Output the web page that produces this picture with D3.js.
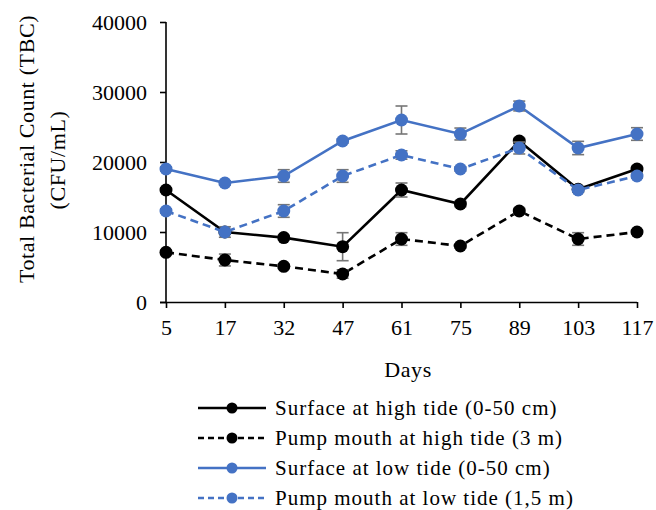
<!DOCTYPE html>
<html>
<head>
<meta charset="utf-8">
<script src="https://cdn.jsdelivr.net/npm/d3@7"></script>
<style>
  html, body { margin: 0; padding: 0; background: #fff; }
  svg text { font-family: "Liberation Serif", "Times New Roman", serif; fill: #000; }
</style>
</head>
<body>
<svg id="chart" width="656" height="510"></svg>
<script>
// Sampling days (categorical x axis)
const days = ["5", "17", "32", "47", "61", "75", "89", "103", "117"];
const yTicks = [0, 10000, 20000, 30000, 40000];

// Total bacterial count (CFU/mL) per series
const surfaceHigh = [16000, 10000, 9200, 7900, 16000, 14000, 23000, 16100, 19000];
const pumpHigh    = [7100, 6000, 5100, 4000, 9000, 8000, 13000, 9000, 10000];
const surfaceLow  = [19000, 17000, 18000, 23000, 26000, 24000, 28000, 22000, 24000];
const pumpLow     = [13000, 10000, 13000, 18000, 21000, 19000, 22000, 16000, 18000];

// Standard deviations (error bars)
const surfaceHighErr = [300, 300, 300, 2000, 1000, 400, 400, 400, 400];
const pumpHighErr    = [300, 850, 300, 600, 900, 300, 400, 900, 300];
const surfaceLowErr  = [300, 300, 900, 300, 2000, 850, 700, 950, 900];
const pumpLowErr     = [300, 750, 900, 900, 600, 300, 850, 300, 300];

const seriesNames = [
  "Surface at high tide (0-50 cm)",
  "Pump mouth at high tide (3 m)",
  "Surface at low tide (0-50 cm)",
  "Pump mouth at low tide (1,5 m)"
];

const series = [
  { name: seriesNames[0], values: surfaceHigh, err: surfaceHighErr, color: "#000000", dash: null },
  { name: seriesNames[1], values: pumpHigh,    err: pumpHighErr,    color: "#000000", dash: "8,5" },
  { name: seriesNames[2], values: surfaceLow,  err: surfaceLowErr,  color: "#4472C4", dash: null },
  { name: seriesNames[3], values: pumpLow,     err: pumpLowErr,     color: "#4472C4", dash: "8,5" }
];

const svg = d3.select("#chart");
const x = d3.scalePoint().domain(days).range([166, 637]).padding(0);
const y = d3.scaleLinear().domain([0, 40000]).range([302, 22]);

// Axes
const yAxis = svg.append("g")
  .attr("transform", `translate(${x(days[0])},0)`)
  .call(d3.axisLeft(y).tickValues(yTicks).tickSize(6).tickPadding(13).tickFormat(d3.format("d")));
const xAxis = svg.append("g")
  .attr("transform", `translate(0,${y(0)})`)
  .call(d3.axisBottom(x).tickSize(6).tickPadding(11));
[yAxis, xAxis].forEach(g => {
  g.select(".domain").attr("stroke", "#000").attr("stroke-width", 1.6);
  g.selectAll(".tick line").attr("stroke", "#000").attr("stroke-width", 1.6);
  g.selectAll(".tick text").style("font-size", "22px").attr("fill", "#000");
});
xAxis.select(".domain").attr("d", `M${x(days[0]) - 6},0.5H${x(days[days.length - 1])}`);
yAxis.select(".domain").attr("d", `M0,${y(0)}V${y(40000)}`);

// Axis titles
svg.append("text")
  .attr("x", 408).attr("y", 377)
  .attr("text-anchor", "middle")
  .style("font-size", "22px")
  .style("letter-spacing", "0.6px")
  .text("Days");
svg.append("text")
  .attr("transform", "translate(34,149) rotate(-90)")
  .attr("text-anchor", "middle")
  .style("font-size", "22px")
  .style("letter-spacing", "0.6px")
  .text("Total Bacterial Count (TBC)");
svg.append("text")
  .attr("transform", "translate(65,160) rotate(-90)")
  .attr("text-anchor", "middle")
  .style("font-size", "22px")
  .style("letter-spacing", "0.6px")
  .text("(CFU/mL)");

const line = d3.line().x((d, i) => x(days[i])).y(d => y(d));

series.forEach(s => {
  const g = svg.append("g");
  g.append("path")
    .datum(s.values)
    .attr("d", line)
    .attr("fill", "none")
    .attr("stroke", s.color)
    .attr("stroke-width", 2.6)
    .attr("stroke-dasharray", s.dash);

  // Error bars
  const eb = g.selectAll(".err").data(s.values).join("g").attr("class", "err");
  eb.append("line")
    .attr("x1", (d, i) => x(days[i])).attr("x2", (d, i) => x(days[i]))
    .attr("y1", (d, i) => y(d + s.err[i])).attr("y2", (d, i) => y(d - s.err[i]))
    .attr("stroke", "#767676").attr("stroke-width", 1.6);
  [1, -1].forEach(sign => {
    eb.append("line")
      .attr("x1", (d, i) => x(days[i]) - 6).attr("x2", (d, i) => x(days[i]) + 6)
      .attr("y1", (d, i) => y(d + sign * s.err[i])).attr("y2", (d, i) => y(d + sign * s.err[i]))
      .attr("stroke", "#767676").attr("stroke-width", 1.6);
  });

  g.selectAll("circle")
    .data(s.values)
    .join("circle")
    .attr("cx", (d, i) => x(days[i]))
    .attr("cy", d => y(d))
    .attr("r", 6.5)
    .attr("fill", s.color);
});

// Legend
const legend = svg.append("g");
series.forEach((s, i) => {
  const ly = 408 + i * 30;
  legend.append("line")
    .attr("x1", 198).attr("x2", 266)
    .attr("y1", ly).attr("y2", ly)
    .attr("stroke", s.color)
    .attr("stroke-width", 2.6)
    .attr("stroke-dasharray", s.dash ? "6,4" : null);
  legend.append("circle")
    .attr("cx", 232).attr("cy", ly).attr("r", 5.5)
    .attr("fill", s.color);
  legend.append("text")
    .attr("x", 275).attr("y", ly + 7)
    .style("font-size", "21px")
    .style("letter-spacing", "1px")
    .text(s.name);
});
</script>
</body>
</html>
